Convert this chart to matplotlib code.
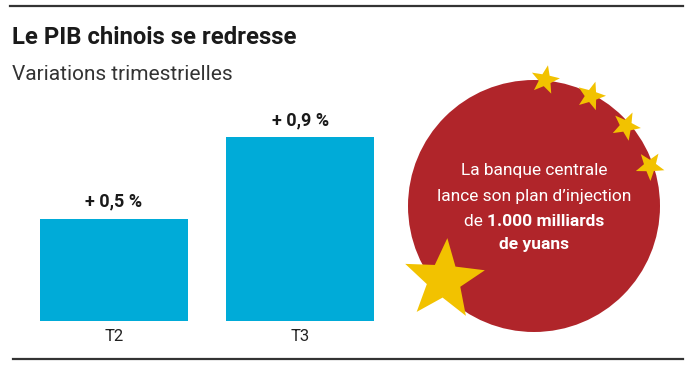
import matplotlib.pyplot as plt
import numpy as np
from matplotlib.patches import Circle, Polygon

plt.rcParams['font.family'] = ['Roboto', 'DejaVu Sans']

quarters = ['T2', 'T3']
growth = [0.5, 0.9]
value_labels = ['+ 0,5 %', '+ 0,9 %']

title = 'Le PIB chinois se redresse'
subtitle = 'Variations trimestrielles'

bar_color = '#00ABD8'
red = '#B0252A'
yellow = '#F2C200'


def star(cx, cy, r, rot=0):
    pts = []
    for i in range(10):
        rad = r if i % 2 == 0 else r * 0.42
        a = np.pi / 2 + rot + i * np.pi / 5
        pts.append((cx + rad * np.cos(a), cy - rad * np.sin(a)))
    return Polygon(pts, closed=True, facecolor=yellow, edgecolor='none')


W, H = 690, 375
fig = plt.figure(figsize=(6.9, 3.75), dpi=100)

# overlay in pixel coordinates
bg = fig.add_axes([0, 0, 1, 1])
bg.set_xlim(0, W)
bg.set_ylim(H, 0)
bg.axis('off')

bg.plot([10, 683], [6, 6], color='#333333', lw=1.6)
bg.plot([13, 683], [359, 359], color='#333333', lw=1.6)
bg.text(12, 38, title, fontsize=17.2, fontweight='bold', va='center', color='#1a1a1a')
bg.text(12, 74, subtitle, fontsize=15, va='center', color='#333333')

bg.add_patch(Circle((534, 206), 126, facecolor=red, edgecolor='none'))
for cx, cy, r, rot in [(545, 80, 15, -0.2), (591, 96, 15, -0.3),
                       (626, 126, 15, -0.45), (650, 166, 15, -0.6)]:
    bg.add_patch(star(cx, cy, r, rot))
bg.add_patch(star(444, 280, 42, -0.08))

fs = 12.5
bg.text(534, 170, 'La banque centrale', color='white', fontsize=fs, ha='center', va='center')
bg.text(534, 196, "lance son plan d\u2019injection", color='white', fontsize=fs,
        ha='center', va='center')
a = bg.text(0, 221, 'de ', color='white', fontsize=fs, ha='left', va='center')
b = bg.text(0, 221, '1.000 milliards', color='white', fontsize=fs, fontweight='bold',
            ha='left', va='center')
r = fig.canvas.get_renderer()
wa = a.get_window_extent(r).width
wb = b.get_window_extent(r).width
x0 = 534 - (wa + wb) / 2
a.set_x(x0)
b.set_x(x0 + wa)
bg.text(534, 244, 'de yuans', color='white', fontsize=fs, fontweight='bold',
        ha='center', va='center')

# bar chart
ax = fig.add_axes([20 / W, (H - 321) / H, 375 / W, 204 / H])
x = np.arange(len(quarters))
ax.bar(x, growth, width=0.794, color=bar_color)
ax.set_xlim(-0.504, 1.507)
ax.set_ylim(0, 1)
for xi, v, lab in zip(x, growth, value_labels):
    ax.text(xi, v + 0.04, lab, ha='center', va='bottom', fontsize=13,
            fontweight='bold', color='#1a1a1a')
ax.set_xticks(x)
ax.set_xticklabels(quarters, fontsize=12, color='#222222')
ax.tick_params(axis='x', length=0, pad=6)
ax.set_yticks([])
for s in ax.spines.values():
    s.set_visible(False)
ax.patch.set_alpha(0)

fig.savefig('out.png', dpi=100)
